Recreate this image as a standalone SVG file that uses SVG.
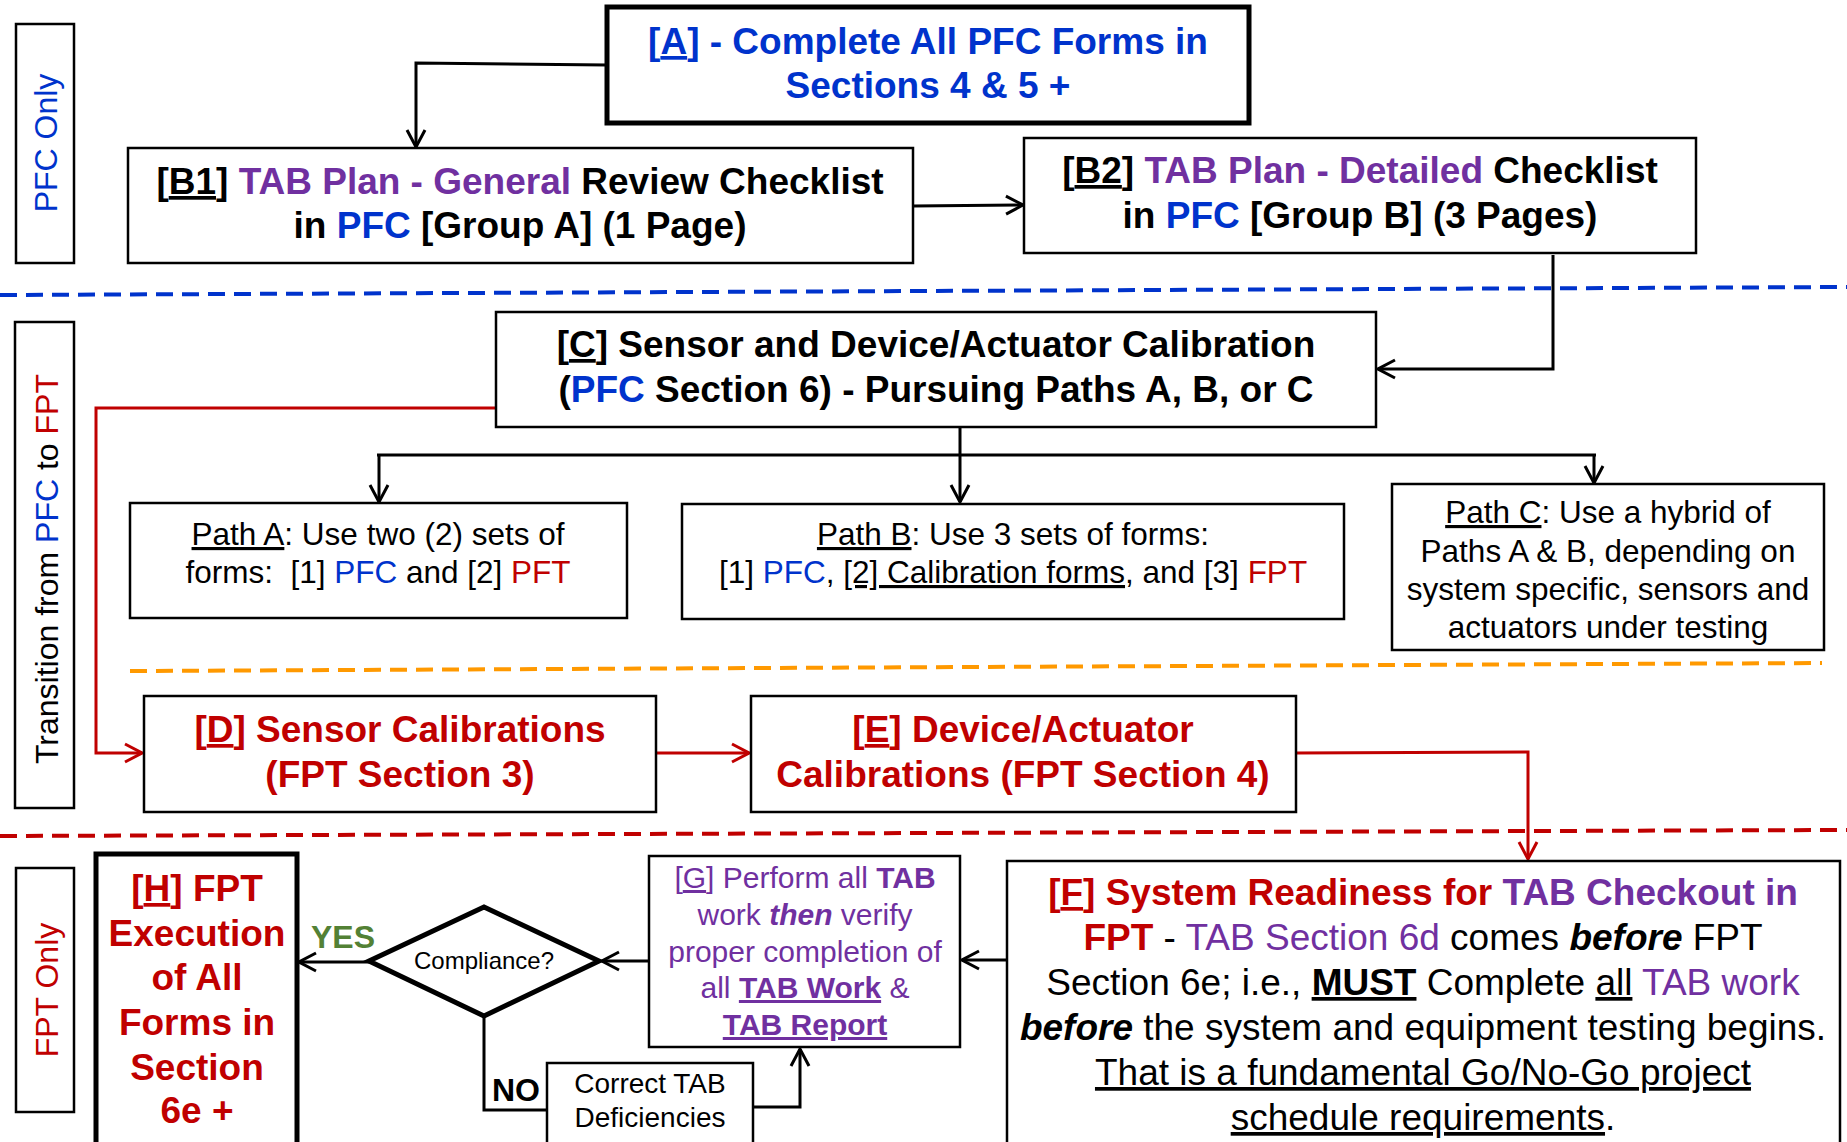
<svg xmlns="http://www.w3.org/2000/svg" width="1847" height="1142" viewBox="0 0 1847 1142">
  <style>
    text { font-family: "Liberation Sans", Arial, sans-serif; }
    .bx { fill: #fff; stroke: #000; stroke-width: 2.5; }
    .bxk { fill: #fff; stroke: #000; stroke-width: 5; }
    .b37 { font-size: 37px; font-weight: bold; text-anchor: middle; }
    .r37 { font-size: 37px; text-anchor: middle; }
    .r31 { font-size: 31.5px; text-anchor: middle; }
    .r30 { font-size: 30px; text-anchor: middle; fill: #7030A0; }
    .r28 { font-size: 28px; text-anchor: middle; }
    .side { font-size: 32px; text-anchor: middle; }
    .blue { fill: #0033CC; }
    .purple { fill: #7030A0; }
    .red { fill: #C00000; }
    .blk { fill: #000; }
    .u { text-decoration: underline; }
    .bold { font-weight: bold; }
    .bi { font-weight: bold; font-style: italic; }
    .norm { font-weight: normal; }
    .ln { fill: none; stroke: #000; stroke-width: 3; }
    .lnr { fill: none; stroke: #C00000; stroke-width: 3; }
    .dash { fill: none; stroke-width: 4; stroke-dasharray: 17 9; }
  </style>
  <defs>
    <marker id="arr" viewBox="0 0 22 22" refX="20" refY="11" markerWidth="22" markerHeight="22" markerUnits="userSpaceOnUse" orient="auto">
      <path d="M3,2 L20,11 L3,20" fill="none" stroke="#000" stroke-width="3"/>
    </marker>
    <marker id="arrR" viewBox="0 0 22 22" refX="20" refY="11" markerWidth="22" markerHeight="22" markerUnits="userSpaceOnUse" orient="auto">
      <path d="M3,2 L20,11 L3,20" fill="none" stroke="#C00000" stroke-width="3"/>
    </marker>
  </defs>
  <rect width="1847" height="1142" fill="#fff"/>

  <!-- phase separators -->
  <g id="separators">
    <line class="dash" x1="0" y1="295" x2="1847" y2="287" stroke="#0033CC"/>
    <line class="dash" x1="130" y1="671" x2="1822" y2="663" stroke="#FF9900"/>
    <line class="dash" x1="0" y1="836" x2="1847" y2="830" stroke="#C00000"/>
  </g>

  <!-- phase labels -->
  <g id="label-pfc">
    <rect class="bx" x="16" y="24" width="58" height="239"/>
    <text class="side blue" transform="translate(57,143) rotate(-90)">PFC Only</text>
  </g>
  <g id="label-transition">
    <rect class="bx" x="15" y="322" width="59" height="486"/>
    <text class="side" transform="translate(58,569) rotate(-90)">Transition from <tspan class="blue">PFC</tspan> to <tspan class="red">FPT</tspan></text>
  </g>
  <g id="label-fpt">
    <rect class="bx" x="16" y="868" width="58" height="244"/>
    <text class="side red" transform="translate(58,990) rotate(-90)">FPT Only</text>
  </g>

  <!-- connectors -->
  <g id="connectors">
    <polyline class="ln" points="607,65 416,63 416,147" marker-end="url(#arr)"/>
    <line class="ln" x1="913" y1="206" x2="1023" y2="205" marker-end="url(#arr)"/>
    <polyline class="ln" points="1553,255 1553,369 1378,369" marker-end="url(#arr)"/>
    <line class="ln" x1="960" y1="427" x2="960" y2="502" marker-end="url(#arr)" stroke-width="3.5"/>
    <line class="ln" x1="377" y1="455" x2="1596" y2="455" stroke-width="4"/>
    <line class="ln" x1="379" y1="455" x2="379" y2="502" marker-end="url(#arr)"/>
    <line class="ln" x1="1594" y1="455" x2="1594" y2="483" marker-end="url(#arr)"/>
    <polyline class="lnr" points="496,408 96,408 96,753 142,753" marker-end="url(#arrR)"/>
    <line class="lnr" x1="656" y1="753" x2="749" y2="753" marker-end="url(#arrR)"/>
    <polyline class="lnr" points="1296,753 1528,752 1528,859" marker-end="url(#arrR)"/>
    <line class="ln" x1="1007" y1="960" x2="962" y2="960" marker-end="url(#arr)"/>
    <line class="ln" x1="649" y1="961" x2="602" y2="961" marker-end="url(#arr)" stroke-width="4"/>
    <line class="ln" x1="369" y1="962" x2="299" y2="962" marker-end="url(#arr)" stroke-width="4"/>
    <polyline class="ln" points="484,1016 484,1110 547,1110" stroke-width="4"/>
    <polyline class="ln" points="753,1107 800,1107 800,1049" marker-end="url(#arr)" stroke-width="4"/>
    <text x="311" y="948" font-size="32" font-weight="bold" fill="#538135">YES</text>
    <text x="492" y="1101" font-size="32" font-weight="bold">NO</text>
  </g>

  <g id="node-A">
    <rect class="bxk" x="607" y="7" width="642" height="116"/>
    <text class="b37 blue" x="928" y="54">[<tspan class="u">A</tspan>] - Complete All PFC Forms in</text>
    <text class="b37 blue" x="928" y="98">Sections 4 &amp; 5 +</text>
  </g>

  <g id="node-B1">
    <rect class="bx" x="128" y="148" width="785" height="115"/>
    <text class="b37" x="520" y="194">[<tspan class="u">B1</tspan>] <tspan class="purple">TAB Plan - General</tspan> Review Checklist</text>
    <text class="b37" x="520" y="238">in <tspan class="blue">PFC</tspan> [Group A] (1 Page)</text>
  </g>

  <g id="node-B2">
    <rect class="bx" x="1024" y="138" width="672" height="115"/>
    <text class="b37" x="1360" y="183">[<tspan class="u">B2</tspan>] <tspan class="purple">TAB Plan - Detailed</tspan> Checklist</text>
    <text class="b37" x="1360" y="228">in <tspan class="blue">PFC</tspan> [Group B] (3 Pages)</text>
  </g>

  <g id="node-C">
    <rect class="bx" x="496" y="312" width="880" height="115"/>
    <text class="b37" x="936" y="357">[<tspan class="u">C</tspan>] Sensor and Device/Actuator Calibration</text>
    <text class="b37" x="936" y="402">(<tspan class="blue">PFC</tspan> Section 6) - Pursuing Paths A, B, or C</text>
  </g>

  <g id="node-pathA">
    <rect class="bx" x="130" y="503" width="497" height="115"/>
    <text class="r31" x="378" y="545"><tspan class="u">Path A</tspan>: Use two (2) sets of</text>
    <text class="r31" x="378" y="583" xml:space="preserve">forms:  [1] <tspan class="blue">PFC</tspan> and [2] <tspan class="red">PFT</tspan></text>
  </g>

  <g id="node-pathB">
    <rect class="bx" x="682" y="504" width="662" height="115"/>
    <text class="r31" x="1013" y="545"><tspan class="u">Path B</tspan>: Use 3 sets of forms:</text>
    <text class="r31" x="1013" y="583">[1] <tspan class="blue">PFC</tspan>, <tspan class="u">[2] Calibration forms</tspan>, and [3] <tspan class="red">FPT</tspan></text>
  </g>

  <g id="node-pathC">
    <rect class="bx" x="1392" y="484" width="432" height="166"/>
    <text class="r31" x="1608" y="523"><tspan class="u">Path C</tspan>: Use a hybrid of</text>
    <text class="r31" x="1608" y="562">Paths A &amp; B, depending on</text>
    <text class="r31" x="1608" y="600">system specific, sensors and</text>
    <text class="r31" x="1608" y="638">actuators under testing</text>
  </g>

  <g id="node-D">
    <rect class="bx" x="144" y="696" width="512" height="116"/>
    <text class="b37 red" x="400" y="742">[<tspan class="u">D</tspan>] Sensor Calibrations</text>
    <text class="b37 red" x="400" y="787">(FPT Section 3)</text>
  </g>

  <g id="node-E">
    <rect class="bx" x="751" y="696" width="545" height="116"/>
    <text class="b37 red" x="1023" y="742">[<tspan class="u">E</tspan>] Device/Actuator</text>
    <text class="b37 red" x="1023" y="787">Calibrations (FPT Section 4)</text>
  </g>

  <g id="node-F">
    <rect class="bx" x="1007" y="861" width="833" height="300"/>
    <text class="b37 red" x="1423" y="905">[<tspan class="u">F</tspan>] System Readiness for <tspan class="purple">TAB Checkout in</tspan></text>
    <text class="r37" x="1423" y="950"><tspan class="red bold">FPT</tspan> - <tspan class="purple">TAB Section 6d</tspan> comes <tspan class="bi">before</tspan> FPT</text>
    <text class="r37" x="1423" y="995">Section 6e; i.e., <tspan class="bold u">MUST</tspan> Complete <tspan class="u">all</tspan> <tspan class="purple">TAB work</tspan></text>
    <text class="r37" x="1423" y="1040"><tspan class="bi">before</tspan> the system and equipment testing begins.</text>
    <text class="r37" x="1423" y="1085"><tspan class="u">That is a fundamental Go/No-Go project</tspan></text>
    <text class="r37" x="1423" y="1130"><tspan class="u">schedule requirements</tspan>.</text>
  </g>

  <g id="node-G">
    <rect class="bx" x="649" y="856" width="311" height="191"/>
    <text class="r30" x="805" y="888">[<tspan class="u">G</tspan>] Perform all <tspan class="bold">TAB</tspan></text>
    <text class="r30" x="805" y="925">work <tspan class="bi">then</tspan> verify</text>
    <text class="r30" x="805" y="962">proper completion of</text>
    <text class="r30" x="805" y="998">all <tspan class="bold u">TAB Work</tspan> &amp;</text>
    <text class="r30" x="805" y="1035"><tspan class="bold u">TAB Report</tspan></text>
  </g>

  <g id="node-compliance">
    <polygon points="369,961 484,907 599,961 484,1016" fill="#fff" stroke="#000" stroke-width="5" stroke-linejoin="miter"/>
    <text x="484" y="969" font-size="24" text-anchor="middle">Compliance?</text>
  </g>

  <g id="node-correct">
    <rect class="bx" x="547" y="1063" width="206" height="100"/>
    <text class="r28" x="650" y="1093">Correct TAB</text>
    <text class="r28" x="650" y="1127">Deficiencies</text>
  </g>

  <g id="node-H">
    <rect class="bxk" x="96" y="854" width="201" height="310"/>
    <text class="b37 red" x="197" y="901">[<tspan class="u">H</tspan>] FPT</text>
    <text class="b37 red" x="197" y="946">Execution</text>
    <text class="b37 red" x="197" y="990">of All</text>
    <text class="b37 red" x="197" y="1035">Forms in</text>
    <text class="b37 red" x="197" y="1080">Section</text>
    <text class="b37 red" x="197" y="1123">6e +</text>
  </g>
</svg>
